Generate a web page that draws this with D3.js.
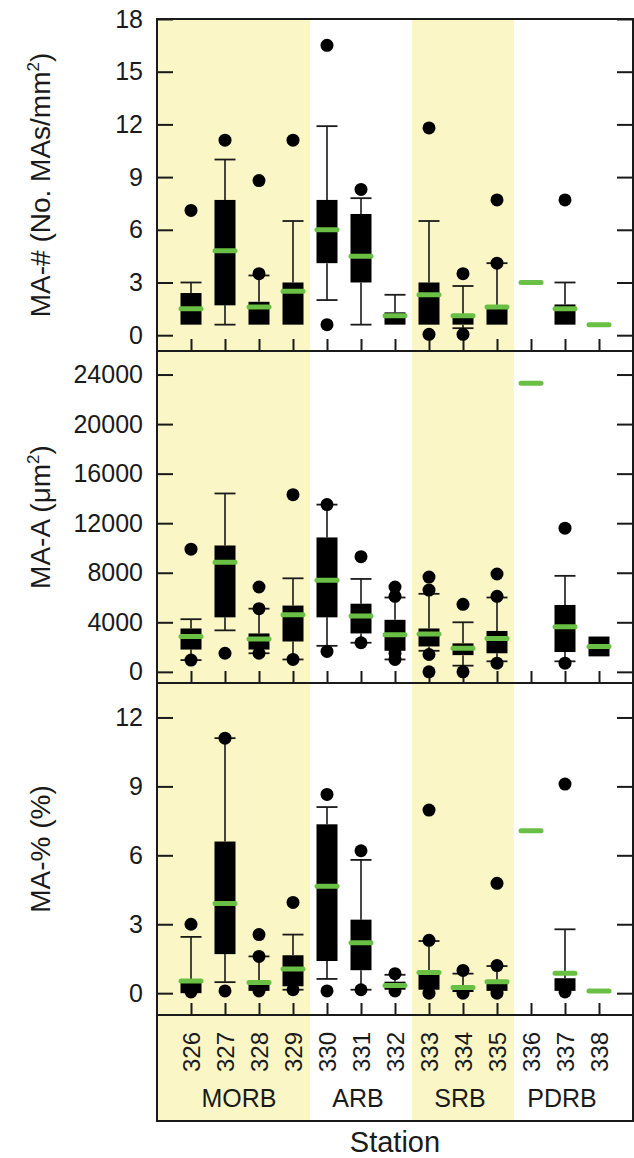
<!DOCTYPE html>
<html>
<head>
<meta charset="utf-8">
<script src="https://cdn.jsdelivr.net/npm/d3@7"></script>
<style>
html, body { margin: 0; padding: 0; background: #fff; }
svg { display: block; font-family: "Liberation Sans", Arial, sans-serif; }
</style>
</head>
<body>
<svg id="chart" width="634" height="1158"></svg>
<script>
// ---------- DATA ----------
const stations = [326, 327, 328, 329, 330, 331, 332, 333, 334, 335, 336, 337, 338];
const groups = ["MORB","MORB","MORB","MORB","ARB","ARB","ARB","SRB","SRB","SRB","PDRB","PDRB","PDRB"];
const shadedGroups = ["MORB", "SRB"];

// Panel 1: MA-# (No. MAs/mm2)
const numTicks   = [0, 3, 6, 9, 12, 15, 18];
const numQ1      = [0.6, 1.7, 0.6, 0.6, 4.1, 3.0, 0.6, 0.6, 0.6, 0.6, null, 0.6, null];
const numMedian  = [1.5, 4.8, 1.6, 2.5, 6.0, 4.5, 1.1, 2.3, 1.1, 1.6, 3.0, 1.5, 0.6];
const numQ3      = [2.4, 7.7, 1.9, 3.0, 7.7, 6.9, 1.3, 3.0, 1.2, 1.7, null, 1.75, null];
const numWLo     = [null, 0.6, null, null, 2.0, 0.6, null, null, 0.4, null, null, null, null];
const numWHi     = [3.0, 10.0, 3.4, 6.5, 11.9, 7.8, 2.3, 6.5, 2.8, 4.1, null, 3.0, null];
const numOut     = [[7.1], [11.1], [8.8, 3.5], [11.1], [16.5, 0.6], [8.3], [], [11.8, 0.05], [3.5, 0.05], [7.7, 4.1], [], [7.7], []];

// Panel 2: MA-A (um2)
const areaTicks  = [0, 4000, 8000, 12000, 16000, 20000, 24000];
const areaQ1     = [1800, 4400, 1800, 2450, 4400, 3100, 1700, 2050, 1350, 1500, null, 1600, 1250];
const areaMedian = [2850, 8850, 2650, 4600, 7400, 4500, 3000, 3050, 1900, 2700, 23300, 3650, 2050];
const areaQ3     = [3500, 10200, 3100, 5350, 10850, 5500, 4200, 3500, 2300, 3300, null, 5400, 2850];
const areaWLo    = [950, 3350, 1500, 1000, 2100, 2350, 1000, 1700, 500, 850, null, 850, null];
const areaWHi    = [4250, 14400, 5100, 7550, 13500, 7500, 6000, 6300, 4000, 6000, null, 7750, null];
const areaOut    = [[9900, 950], [1500], [6850, 5100, 1500], [14300, 1000], [13500, 1650], [9300, 2350],
                    [6850, 6100, 1500, 1000], [7650, 6600, 1400, 0], [5450, 0], [7900, 6100, 700], [], [11600, 700], []];

// Panel 3: MA-% (%)
const pctTicks   = [0, 3, 6, 9, 12];
const pctQ1      = [0.0, 1.7, 0.1, 0.3, 1.4, 1.0, 0.15, 0.15, 0.05, 0.1, null, 0.1, null];
const pctMedian  = [0.53, 3.9, 0.46, 1.05, 4.65, 2.2, 0.33, 0.9, 0.25, 0.5, 7.07, 0.87, 0.1];
const pctQ3      = [0.5, 6.6, 0.5, 1.65, 7.35, 3.2, 0.5, 0.85, 0.35, 0.55, null, 0.65, null];
const pctWLo     = [null, 0.48, null, 0.15, 0.62, 0.15, null, null, null, null, null, null, null];
const pctWHi     = [2.45, 11.1, 1.6, 2.55, 8.1, 5.8, 0.8, 2.27, 0.85, 1.18, null, 2.78, null];
const pctOut     = [[3.0, 0.05], [11.1, 0.1], [2.55, 1.6, 0.1], [3.95, 0.15], [8.65, 0.1], [6.2, 0.15],
                    [0.85, 0.1], [7.97, 2.3, 0.0], [0.99, 0.0], [4.78, 1.2, 0.0], [], [9.1, 0.05], []];

// ---------- LAYOUT ----------
const left = 157, right = 633;
const panelEdges = [19, 351, 683, 1015];
const labelBoxBottom = 1121;
const yellow = "#fbf6c6", green = "#6abf45", ink = "#1a1a1a";

const svg = d3.select("#chart");
const x = d3.scaleLinear().domain([325, 339]).range([left, right]);

const panels = [
  { domain: [-0.9, 18], ticks: numTicks, q1: numQ1, med: numMedian, q3: numQ3, wlo: numWLo, whi: numWHi, out: numOut,
    title: ["MA-# (No. MAs/mm", "2", ")"] },
  { domain: [-900, 25900], ticks: areaTicks, q1: areaQ1, med: areaMedian, q3: areaQ3, wlo: areaWLo, whi: areaWHi, out: areaOut,
    title: ["MA-A (\u03bcm", "2", ")"] },
  { domain: [-0.95, 13.5], ticks: pctTicks, q1: pctQ1, med: pctMedian, q3: pctQ3, wlo: pctWLo, whi: pctWHi, out: pctOut,
    title: ["MA-% (%)", "", ""] }
];

// ---------- GROUP BANDS ----------
const groupNames = Array.from(new Set(groups));
const groupInfo = groupNames.map((g, gi) => {
  const st = stations.filter((s, i) => groups[i] === g);
  let x0 = d3.min(st) - 0.5, x1 = d3.max(st) + 0.5;
  if (gi === 0) x0 = x.domain()[0];
  if (gi === groupNames.length - 1) x1 = x.domain()[1];
  return { name: g, x0, x1, center: d3.mean(st) };
});

svg.append("g").selectAll("rect")
  .data(groupInfo.filter(g => shadedGroups.includes(g.name)))
  .join("rect")
  .attr("x", d => x(d.x0)).attr("width", d => x(d.x1) - x(d.x0))
  .attr("y", panelEdges[0]).attr("height", labelBoxBottom - panelEdges[0])
  .attr("fill", yellow);

// ---------- PANELS ----------
const boxW = 21, capW = 21, medW = 20;

panels.forEach((p, pi) => {
  const top = panelEdges[pi], bottom = panelEdges[pi + 1];
  const y = d3.scaleLinear().domain(p.domain).range([bottom, top]);
  const g = svg.append("g");

  // axes
  const la = g.append("g").attr("transform", `translate(${left},0)`)
    .call(d3.axisLeft(y).tickValues(p.ticks).tickSize(-16).tickPadding(14).tickFormat(d3.format("d")));
  la.select(".domain").remove();
  la.selectAll("line").attr("stroke", ink).attr("stroke-width", 2);
  la.selectAll("text").attr("font-size", 25).attr("fill", ink).attr("font-family", "Liberation Sans, Arial, sans-serif");

  const ra = g.append("g").attr("transform", `translate(${right},0)`)
    .call(d3.axisRight(y).tickValues(p.ticks).tickSize(-16).tickFormat(""));
  ra.select(".domain").remove();
  ra.selectAll("line").attr("stroke", ink).attr("stroke-width", 2);

  const ba = g.append("g").attr("transform", `translate(0,${bottom})`)
    .call(d3.axisBottom(x).tickValues(stations).tickSize(-12).tickFormat(""));
  ba.select(".domain").remove();
  ba.selectAll("line").attr("stroke", ink).attr("stroke-width", 2);

  const data = stations.map((s, i) => ({ s, q1: p.q1[i], med: p.med[i], q3: p.q3[i], wlo: p.wlo[i], whi: p.whi[i], out: p.out[i] }));

  // whiskers
  data.forEach(d => {
    const cx = x(d.s);
    if (d.whi != null && d.q3 != null) {
      g.append("line").attr("x1", cx).attr("x2", cx).attr("y1", y(d.q3)).attr("y2", y(d.whi))
        .attr("stroke", ink).attr("stroke-width", 1.6);
      g.append("line").attr("x1", cx - capW / 2).attr("x2", cx + capW / 2).attr("y1", y(d.whi)).attr("y2", y(d.whi))
        .attr("stroke", ink).attr("stroke-width", 1.8);
    }
    if (d.wlo != null && d.q1 != null) {
      g.append("line").attr("x1", cx).attr("x2", cx).attr("y1", y(d.q1)).attr("y2", y(d.wlo))
        .attr("stroke", ink).attr("stroke-width", 1.6);
      g.append("line").attr("x1", cx - capW / 2).attr("x2", cx + capW / 2).attr("y1", y(d.wlo)).attr("y2", y(d.wlo))
        .attr("stroke", ink).attr("stroke-width", 1.8);
    }
  });

  // boxes
  g.append("g").selectAll("rect")
    .data(data.filter(d => d.q1 != null && d.q3 != null))
    .join("rect")
    .attr("x", d => x(d.s) - boxW / 2).attr("width", boxW)
    .attr("y", d => y(d.q3)).attr("height", d => Math.max(1, y(d.q1) - y(d.q3)))
    .attr("fill", "#000");

  // outliers
  g.append("g").selectAll("circle")
    .data(data.flatMap(d => d.out.map(v => ({ s: d.s, v }))))
    .join("circle")
    .attr("cx", d => x(d.s)).attr("cy", d => y(d.v)).attr("r", 6.5)
    .attr("fill", "#000");

  // medians
  g.append("g").selectAll("line")
    .data(data.filter(d => d.med != null))
    .join("line")
    .attr("x1", d => x(d.s) - medW / 2).attr("x2", d => x(d.s) + medW / 2)
    .attr("y1", d => y(d.med)).attr("y2", d => y(d.med))
    .attr("stroke", green).attr("stroke-width", 5).attr("stroke-linecap", "round");

  // frame
  g.append("rect").attr("x", left).attr("y", top).attr("width", right - left).attr("height", bottom - top)
    .attr("fill", "none").attr("stroke", ink).attr("stroke-width", 2);

  // y title
  const cy = (top + bottom) / 2;
  const t = svg.append("text")
    .attr("transform", `translate(50,${cy}) rotate(-90)`)
    .attr("text-anchor", "middle").attr("font-size", 28).attr("fill", ink);
  t.append("tspan").text(p.title[0]);
  if (p.title[1]) {
    t.append("tspan").attr("font-size", 17).attr("dy", -11).text(p.title[1]);
    t.append("tspan").attr("dy", 11).text(p.title[2]);
  }
});

// ---------- LABEL BOX ----------
svg.append("rect").attr("x", left).attr("y", panelEdges[3]).attr("width", right - left)
  .attr("height", labelBoxBottom - panelEdges[3])
  .attr("fill", "none").attr("stroke", ink).attr("stroke-width", 2);

svg.append("g").selectAll("text")
  .data(stations)
  .join("text")
  .attr("transform", d => `translate(${x(d)},1052) rotate(-90)`)
  .attr("text-anchor", "middle").attr("dy", "0.36em")
  .attr("font-size", 24).attr("fill", ink)
  .text(d => d);

svg.append("g").selectAll("text")
  .data(groupInfo)
  .join("text")
  .attr("x", d => x(d.center) - 3).attr("y", 1107)
  .attr("text-anchor", "middle").attr("font-size", 25).attr("fill", ink)
  .text(d => d.name);

svg.append("text").attr("x", (left + right) / 2).attr("y", 1152)
  .attr("text-anchor", "middle").attr("font-size", 29).attr("fill", ink)
  .text("Station");
</script>
</body>
</html>
